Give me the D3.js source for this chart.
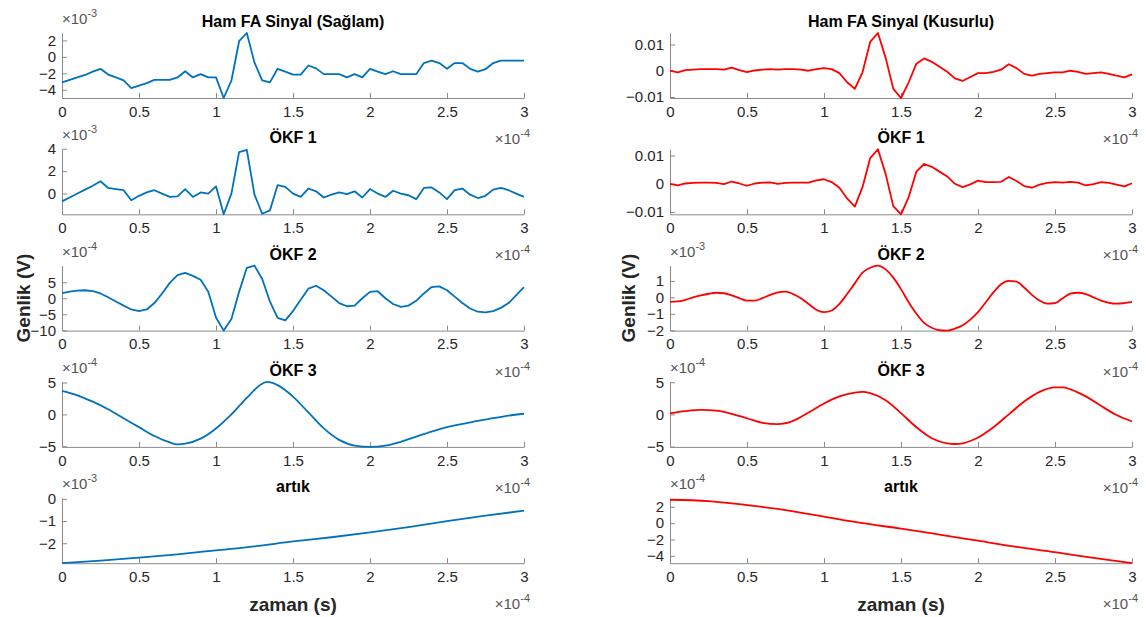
<!DOCTYPE html>
<meta charset="utf-8">
<body style="margin:0;background:#fff">
<script src="https://d3js.org/d3.v7.min.js"></script>
<style>
  text { font-family: "Liberation Sans", Arial, sans-serif; }
  .tick text { font-size: 15px; fill: #262626; }
  .axis path, .axis line { stroke: #8a8a8a; }
  .title { font-size: 16px; font-weight: bold; fill: #000; }
  .lab { font-size: 19px; font-weight: bold; fill: #262626; }
  .expo { font-size: 15px; fill: #555; }
</style>
<script>
var width = 1146, height = 617;

// time grid (x 10^-4 s)
var t05 = [0,0.05,0.1,0.15,0.2,0.25,0.3,0.35,0.4,0.45,0.5,0.55,0.6,0.65,0.7,0.75,0.8,0.85,0.9,0.95,
  1,1.05,1.1,1.15,1.2,1.25,1.3,1.35,1.4,1.45,1.5,1.55,1.6,1.65,1.7,1.75,1.8,1.85,1.9,1.95,
  2,2.05,2.1,2.15,2.2,2.25,2.3,2.35,2.4,2.45,2.5,2.55,2.6,2.65,2.7,2.75,2.8,2.85,2.9,2.95,3];

// raw signals
var hamSaglam = [-3.1,-2.8,-2.5,-2.2,-1.8,-1.45,-2.15,-2.5,-2.85,-3.8,-3.5,-3.2,-2.8,-2.8,-2.8,-2.5,-1.75,-2.5,-2.1,-2.5,
  -2.5,-5.0,-2.9,1.9,2.9,-0.7,-2.85,-3.1,-1.45,-1.8,-2.15,-2.15,-1.05,-1.4,-2.1,-2.1,-2.1,-2.5,-2.1,-2.5,
  -1.45,-1.8,-2.1,-1.75,-2.1,-2.1,-2.1,-0.75,-0.45,-0.75,-1.45,-0.75,-0.75,-1.45,-1.8,-1.5,-0.75,-0.45,-0.45,-0.45,-0.45];
var hamKusurlu = [0,-0.6,0.2,0.4,0.6,0.6,0.6,0.4,1.2,0.2,-0.5,0.1,0.4,0.6,0.4,0.6,0.6,0.4,0,0.6,
  1.0,0.6,-0.9,-4.4,-6.9,-0.6,11,14.4,5,-6.9,-10.4,-4.4,2.7,4.7,3.4,1.5,-0.4,-2.9,-3.9,-2.4,
  -0.9,-0.9,-0.4,0.4,2.5,1.0,-1.2,-1.9,-1.2,-0.9,-0.6,-0.6,0,-0.4,-1.2,-0.9,-0.6,-1.2,-1.9,-2.5,-1.4];

// ÖKF 1
var okf1Saglam = [-0.7,-0.35,0,0.35,0.7,1.1,0.5,0.4,0.3,-0.6,-0.2,0.1,0.3,0,-0.3,-0.25,0.4,-0.3,0.1,0,
  0.65,-1.85,0,3.7,3.9,-0.1,-1.8,-1.5,0.75,0.6,0,-0.3,0.45,0.2,-0.35,-0.1,0.1,-0.05,0.2,-0.35,
  0.4,0,-0.3,0.25,0,-0.15,-0.5,0.5,0.55,0.1,-0.5,0.3,0.45,-0.1,-0.4,-0.2,0.35,0.5,0.3,0,-0.3];
var okf1Kusurlu = [0,-0.6,0.1,0.3,0.4,0.4,0.3,-0.1,0.8,0.1,-0.7,0.1,0.4,0.5,0,0.3,0.4,0.4,0.4,1.2,
  1.6,0.6,-1.4,-5.2,-8.1,-1.2,9.1,12.2,3.5,-7.9,-10.8,-4.7,4.3,7.0,6.0,4.3,2.6,0,-1.2,-0.2,
  1.1,0.6,0.6,0.7,2.4,1.0,-0.8,-1.4,-0.3,0.3,0.6,0.4,0.7,0.4,-0.6,-0.1,0.6,0.3,-0.3,-0.9,0.2];

// ÖKF 2
var okf2Saglam = [1.6,2.1,2.4,2.5,2.2,1.5,0.3,-1.0,-2.3,-3.5,-4.0,-3.5,-1.5,1.5,4.8,7.2,7.9,7.0,5.8,2.0,
  -6.0,-10.1,-6.5,2.0,9.5,10.2,6.0,-1.0,-6.1,-6.9,-4.0,-0.5,3.0,3.9,2.5,0.5,-1.5,-2.5,-2.3,0,
  2.0,2.2,0,-1.8,-2.7,-2.3,-0.8,1.5,3.5,3.7,2.5,0.5,-1.5,-3.2,-4.2,-4.4,-4.0,-3.0,-1.5,1.0,3.5];
var okf2Kusurlu = [-0.27,-0.25,-0.15,0,0.12,0.22,0.28,0.25,0.12,-0.05,-0.2,-0.2,-0.05,0.15,0.3,0.35,0.2,-0.05,-0.4,-0.75,
  -0.9,-0.8,-0.4,0.2,0.85,1.5,1.8,1.93,1.7,1.2,0.5,-0.3,-1.0,-1.55,-1.85,-2.0,-2.02,-1.9,-1.7,-1.35,
  -0.9,-0.3,0.3,0.8,1.0,0.95,0.6,0.15,-0.2,-0.38,-0.35,-0.05,0.22,0.28,0.2,0,-0.2,-0.33,-0.38,-0.35,-0.28];

// ÖKF 3
var t3Saglam = [0,0.1,0.2,0.3,0.4,0.5,0.6,0.7,0.75,0.8,0.9,1,1.1,1.2,1.3,1.33,1.4,1.5,1.6,1.7,1.8,1.9,2,2.1,2.2,2.3,2.4,2.5,2.6,2.7,2.8,2.9,3];
var okf3Saglam = [3.7,3.0,2.0,0.8,-0.6,-2.0,-3.4,-4.4,-4.7,-4.6,-3.8,-2.2,0,2.6,4.8,5.1,4.6,2.8,0.3,-2.2,-4.0,-4.9,-5.1,-4.9,-4.3,-3.5,-2.7,-2.0,-1.5,-1.0,-0.6,-0.2,0.1];
var t3Kusurlu = [0,0.1,0.2,0.3,0.4,0.5,0.6,0.7,0.8,0.9,1,1.1,1.2,1.25,1.3,1.4,1.5,1.6,1.7,1.8,1.85,1.9,2,2.1,2.2,2.3,2.4,2.5,2.55,2.6,2.7,2.8,2.9,3];
var okf3Kusurlu = [0.15,0.5,0.7,0.6,0.1,-0.6,-1.3,-1.5,-1.0,0.3,1.7,2.8,3.4,3.5,3.3,2.2,0.2,-2.0,-3.7,-4.5,-4.6,-4.5,-3.6,-2.0,0,2.0,3.5,4.2,4.2,3.9,2.8,1.3,-0.1,-1.1];

// artık
var tRes = [0,0.25,0.5,0.75,1,1.25,1.5,1.75,2,2.25,2.5,2.75,3];
var artikSaglam = [-2.9,-2.78,-2.65,-2.5,-2.32,-2.14,-1.92,-1.73,-1.51,-1.27,-1.0,-0.76,-0.53];
var artikKusurlu = [2.86,2.7,2.2,1.6,0.8,0.0,-0.67,-1.4,-2.15,-2.9,-3.55,-4.25,-4.9];

var titlesL = ["Ham FA Sinyal (Sağlam)", "ÖKF 1", "ÖKF 2", "ÖKF 3", "artık"];
var titlesR = ["Ham FA Sinyal (Kusurlu)", "ÖKF 1", "ÖKF 2", "ÖKF 3", "artık"];
var xTicks = [0, 0.5, 1, 1.5, 2, 2.5, 3];

var panels = [
  {col: 0, row: 0, x: t05, y: hamSaglam, dom: [-5.0, 2.9], ticks: [-4,-2,0,2], exp: "-3"},
  {col: 0, row: 1, x: t05, y: okf1Saglam, dom: [-1.85, 3.95], ticks: [0,2,4], exp: "-3"},
  {col: 0, row: 2, x: t05, y: okf2Saglam, dom: [-10.1, 10.2], ticks: [-10,-5,0,5], exp: "-4"},
  {col: 0, row: 3, x: t3Saglam, y: okf3Saglam, dom: [-5.1, 5.1], ticks: [-5,0,5], exp: "-4", smooth: true},
  {col: 0, row: 4, x: tRes, y: artikSaglam, dom: [-2.9, 0.03], ticks: [-2,-1,0], exp: "-3", smooth: true},
  {col: 1, row: 0, x: t05, y: hamKusurlu, dom: [-10.4, 14.4], ticks: [-10,0,10], exp: null},
  {col: 1, row: 1, x: t05, y: okf1Kusurlu, dom: [-10.8, 12.2], ticks: [-10,0,10], exp: null},
  {col: 1, row: 2, x: t05, y: okf2Kusurlu, dom: [-2.02, 1.93], ticks: [-2,-1,0,1], exp: "-3", smooth: true},
  {col: 1, row: 3, x: t3Kusurlu, y: okf3Kusurlu, dom: [-5.05, 5.05], ticks: [-5,0,5], exp: "-4", smooth: true},
  {col: 1, row: 4, x: tRes, y: artikKusurlu, dom: [-4.9, 3.05], ticks: [-4,-2,0,2], exp: "-4", smooth: true}
];

var colLeft = [62, 670], plotW = 462, plotH = 65, rowTop = 33, rowStep = 116.3;
var colors = ["#0072BD", "#FF0000"];

var svg = d3.select("body").append("svg")
  .attr("width", width).attr("height", height);

function expoLabel(g, x, y, exp, anchor) {
  var t = g.append("text").attr("class", "expo").attr("x", x).attr("y", y)
    .attr("text-anchor", anchor);
  t.append("tspan").text("×10");
  t.append("tspan").attr("dy", -7).attr("font-size", 11).text(exp);
}

panels.forEach(function(p) {
  var left = colLeft[p.col], top = rowTop + p.row * rowStep;
  var g = svg.append("g").attr("transform", "translate(" + left + "," + top + ")");

  var x = d3.scaleLinear().domain([0, 3]).range([0, plotW]);
  var y = d3.scaleLinear().domain(p.dom).range([plotH, 0]);

  var xAxis = d3.axisBottom(x).tickValues(xTicks).tickSizeInner(-5).tickSizeOuter(0).tickPadding(8)
    .tickFormat(d3.format("~g"));
  var yAxis = d3.axisLeft(y).tickValues(p.ticks).tickSizeInner(-5).tickSizeOuter(0).tickPadding(6)
    .tickFormat(function(d) { return p.exp ? d3.format("~g")(d) : d3.format("~g")(d / 1000); });

  g.append("g").attr("class", "axis").attr("transform", "translate(0," + plotH + ")").call(xAxis);
  g.append("g").attr("class", "axis").call(yAxis);
  g.selectAll(".tick text").attr("fill", "#262626");

  var line = d3.line()
    .x(function(d, i) { return x(p.x[i]); })
    .y(function(d) { return y(d); })
    .curve(p.smooth ? d3.curveMonotoneX : d3.curveLinear);

  g.append("path").datum(p.y)
    .attr("fill", "none").attr("stroke", colors[p.col]).attr("stroke-width", 1.8)
    .attr("stroke-linejoin", "round").attr("d", line);

  var titles = p.col === 0 ? titlesL : titlesR;
  g.append("text").attr("class", "title").attr("x", plotW / 2).attr("y", -6)
    .attr("text-anchor", "middle").text(titles[p.row]);

  if (p.exp) expoLabel(g, 0, -9, p.exp, "start");
  expoLabel(g, plotW + 6, plotH + 46, "-4", "end");

  if (p.row === 4) {
    g.append("text").attr("class", "lab").attr("x", plotW / 2).attr("y", plotH + 48)
      .attr("text-anchor", "middle").text("zaman (s)");
  }
});

[[23, 0], [628, 1]].forEach(function(a) {
  svg.append("text").attr("class", "lab")
    .attr("transform", "translate(" + a[0] + "," + (rowTop + 2 * rowStep + plotH / 2) + ") rotate(-90)")
    .attr("text-anchor", "middle").attr("dy", "0.35em").text("Genlik (V)");
});
</script>
</body>
